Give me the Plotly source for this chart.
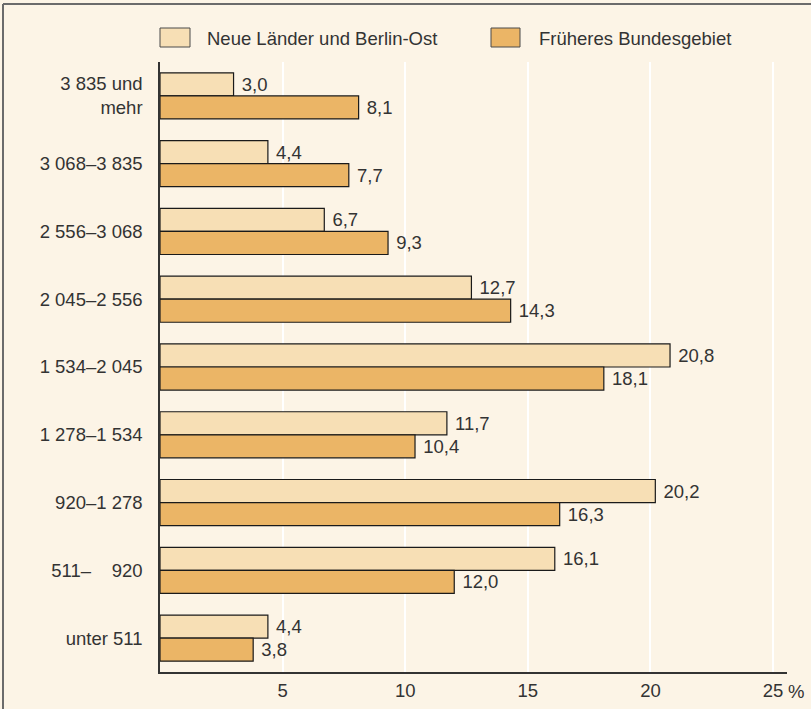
import plotly.graph_objects as go

categories = ["3 835 und<br>mehr", "3 068–3 835", "2 556–3 068", "2 045–2 556",
              "1 534–2 045", "1 278–1 534", "920–1 278", "511–\u2007\u2007920", "unter 511"]
neue_laender = [3.0, 4.4, 6.7, 12.7, 20.8, 11.7, 20.2, 16.1, 4.4]
frueheres_bg = [8.1, 7.7, 9.3, 14.3, 18.1, 10.4, 16.3, 12.0, 3.8]
series_names = ["Neue Länder und Berlin-Ost", "Früheres Bundesgebiet"]
x_tickvals = [5, 10, 15, 20, 25]
x_ticktext = ["5", "10", "15", "20", "25"]

BG = "#FCF4E6"
LIGHT = "#F7DFB5"
DARK = "#EBB566"
TXT = "#333333"
FONT = "Liberation Sans, Arial, sans-serif"
FS = 18.5

def fmt(v):
    return "\u00a0" + f"{v:.1f}".replace(".", ",")

fig = go.Figure()
for name, vals, col in [(series_names[0], neue_laender, LIGHT), (series_names[1], frueheres_bg, DARK)]:
    fig.add_trace(go.Bar(
        y=categories, x=vals, orientation="h", name=name,
        marker=dict(color=col, line=dict(color="#1a1a1a", width=1.2)),
        text=[fmt(v) for v in vals], textposition="outside",
        textfont=dict(size=FS, color=TXT, family=FONT),
        cliponaxis=False, showlegend=False, hoverinfo="skip",
    ))

L, R, T, B = 160, 24, 62, 37
W, H = 811, 709
pw, ph = W - L - R, H - T - B

def px2x(px):
    return (px - L) / pw

def py2y(py):
    return (H - B - py) / ph

shapes = []
# outer frame (top and left)
shapes.append(dict(type="line", xref="paper", yref="paper", x0=px2x(3), x1=px2x(3),
                   y0=py2y(712), y1=py2y(4), line=dict(color="#6b6b6b", width=2)))
shapes.append(dict(type="line", xref="paper", yref="paper", x0=px2x(3), x1=px2x(815),
                   y0=py2y(4), y1=py2y(4), line=dict(color="#6b6b6b", width=2)))
# legend boxes
annotations = []
for (bx0, bx1, tx), name, col in zip([(160, 190, 205), (491, 520, 537)], series_names, [LIGHT, DARK]):
    shapes.append(dict(type="rect", xref="paper", yref="paper", x0=px2x(bx0), x1=px2x(bx1),
                       y0=py2y(47), y1=py2y(28), fillcolor=col, line=dict(color="#4a4a4a", width=1)))
    annotations.append(dict(xref="paper", yref="paper", x=px2x(tx), y=py2y(38), text=name,
                            showarrow=False, xanchor="left", yanchor="middle",
                            font=dict(size=FS, color=TXT, family=FONT)))
# percent sign next to 25
annotations.append(dict(xref="x", yref="paper", x=25, y=py2y(691), text="%",
                        showarrow=False, xanchor="left", yanchor="middle", xshift=13,
                        font=dict(size=FS, color=TXT, family=FONT)))

fig.update_layout(
    width=W, height=H,
    margin=dict(l=L, r=R, t=T, b=B, pad=0, autoexpand=False),
    paper_bgcolor=BG, plot_bgcolor=BG,
    barmode="group", bargap=0.32, bargroupgap=0,
    font=dict(family=FONT, size=FS, color=TXT),
    shapes=shapes, annotations=annotations,
    xaxis=dict(range=[0, 25.57], tickvals=x_tickvals, ticktext=x_ticktext, automargin=False,
               showgrid=True, gridcolor="white", gridwidth=1.5, zeroline=False,
               showline=True, linecolor="#333333", linewidth=1.5,
               ticks="", ticklabelstandoff=1,
               tickfont=dict(size=FS, color=TXT, family=FONT), fixedrange=True),
    yaxis=dict(range=[8.5, -0.5], type="category", categoryorder="array", categoryarray=categories,
               automargin=False,
               showgrid=False, zeroline=False, showline=True, linecolor="#333333", linewidth=1.5,
               ticks="", ticklabelstandoff=12,
               tickfont=dict(size=FS, color=TXT, family=FONT), fixedrange=True),
)

fig.write_html("out.html", config={"displayModeBar": False},
               post_script="document.body.style.margin='0';document.body.style.overflow='hidden';")
